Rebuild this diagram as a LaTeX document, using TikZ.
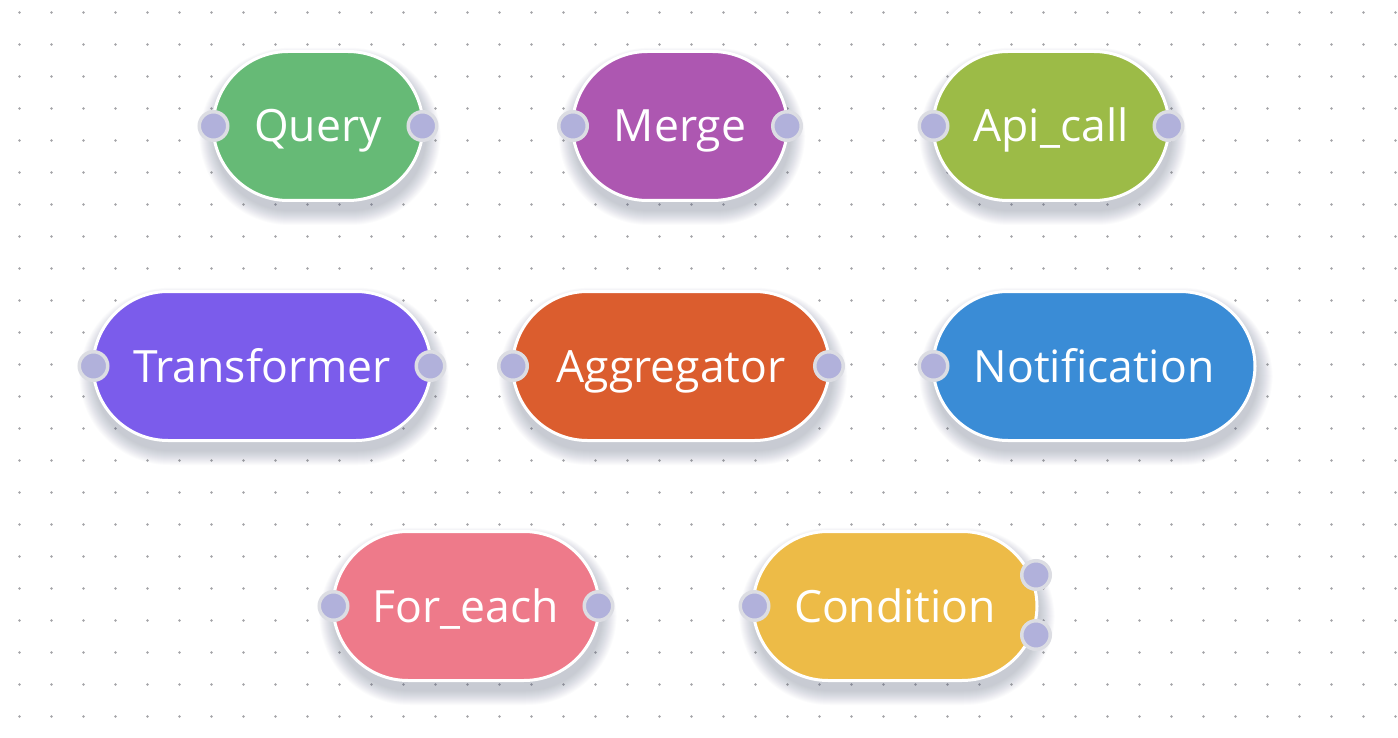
\documentclass[tikz,border=0pt]{standalone}
\usepackage{fontspec}
\setmainfont{Open Sans}
\usetikzlibrary{calc}
\pgfdeclarelayer{bglayer}
\pgfdeclarelayer{shadowlayer}
\pgfsetlayers{bglayer,shadowlayer,main}
\definecolor{dotc}{HTML}{A4A4A8}
\definecolor{portfill}{HTML}{B1B1DB}
\definecolor{portring}{HTML}{DCDDE3}
\definecolor{shadowc}{HTML}{5A6680}
\definecolor{cquery}{HTML}{66BA76}
\definecolor{cmerge}{HTML}{AD57B1}
\definecolor{capi}{HTML}{9CBB47}
\definecolor{ctrans}{HTML}{7B5CEB}
\definecolor{caggr}{HTML}{DB5D2E}
\definecolor{cnotif}{HTML}{3A8CD6}
\definecolor{cforeach}{HTML}{EE7A8A}
\definecolor{ccond}{HTML}{EDBB47}
\tikzset{
  pill/.style={rectangle, rounded corners=75pt, minimum height=149pt, inner sep=0pt,
    draw=white, line width=3pt, text=white, text height=37pt, text depth=5pt,
    font=\fontsize{44.5}{50}\selectfont},
  port/.style={circle, minimum size=28.5pt, inner sep=0pt, fill=portfill, draw=portring, line width=3.5pt},
  shadowring/.style={fill=shadowc, fill opacity=0.022}
}
\begin{document}
\begin{tikzpicture}[x=1pt,y=-1pt]
\useasboundingbox (0,0) rectangle (1398,738);
\begin{pgfonlayer}{bglayer}
\fill[white] (0,0) rectangle (1398,738);
\foreach \i in {0,...,43}{
  \foreach \j in {0,...,22}{
    \fill[dotc] (19.5+32*\i, 12.5+32*\j) circle (1.3pt);
  }
}
\end{pgfonlayer}
% nodes
\node[pill, fill=cquery, minimum width=210pt] (query) at (318,126) {Query};
\node[pill, fill=cmerge, minimum width=215pt] (merge) at (680,126) {Merge};
\node[pill, fill=capi, minimum width=236pt] (api) at (1051,126) {Api\_call};
\node[pill, fill=ctrans, minimum width=338pt] (trans) at (262,366) {Transformer};
\node[pill, fill=caggr, minimum width=317pt] (aggr) at (671,366) {Aggregator};
\node[pill, fill=cnotif, minimum width=322pt] (notif) at (1094,366) {Notification};
\node[pill, fill=cforeach, minimum width=266pt] (foreach) at (466,606) {For\_each};
\node[pill, fill=ccond, minimum width=284pt] (cond) at (895,606) {Condition};
% soft shadows
\begin{pgfonlayer}{shadowlayer}
\foreach \n in {query,merge,api,trans,aggr,notif,foreach,cond}{
  \foreach \k in {0,...,14}{
    \pgfmathsetmacro{\rr}{76+\k}
    \fill[shadowring, rounded corners=\rr pt]
      ($(\n.north west)+(2-\k,9-0.8*\k)$) rectangle ($(\n.south east)+(2+\k,9+\k)$);
  }
}
\end{pgfonlayer}
% ports
\node[port] (query-in) at ([xshift=2pt]query.west) {};
\node[port] (query-out) at ([xshift=-2pt]query.east) {};
\node[port] (merge-in) at ([xshift=2pt]merge.west) {};
\node[port] (merge-out) at ([xshift=-2pt]merge.east) {};
\node[port] (api-in) at ([xshift=2pt]api.west) {};
\node[port] (api-out) at ([xshift=-2pt]api.east) {};
\node[port] (trans-in) at ([xshift=2pt]trans.west) {};
\node[port] (trans-out) at ([xshift=-2pt]trans.east) {};
\node[port] (aggr-in) at ([xshift=2pt]aggr.west) {};
\node[port] (aggr-out) at ([xshift=-2pt]aggr.east) {};
\node[port] (notif-in) at ([xshift=2pt]notif.west) {};
\node[port] (foreach-in) at ([xshift=2pt]foreach.west) {};
\node[port] (foreach-out) at ([xshift=-2pt]foreach.east) {};
\node[port] (cond-in) at ([xshift=3pt]cond.west) {};
\node[port] (cond-out1) at (1036,575) {};
\node[port] (cond-out2) at (1036,635) {};
\end{tikzpicture}
\end{document}
